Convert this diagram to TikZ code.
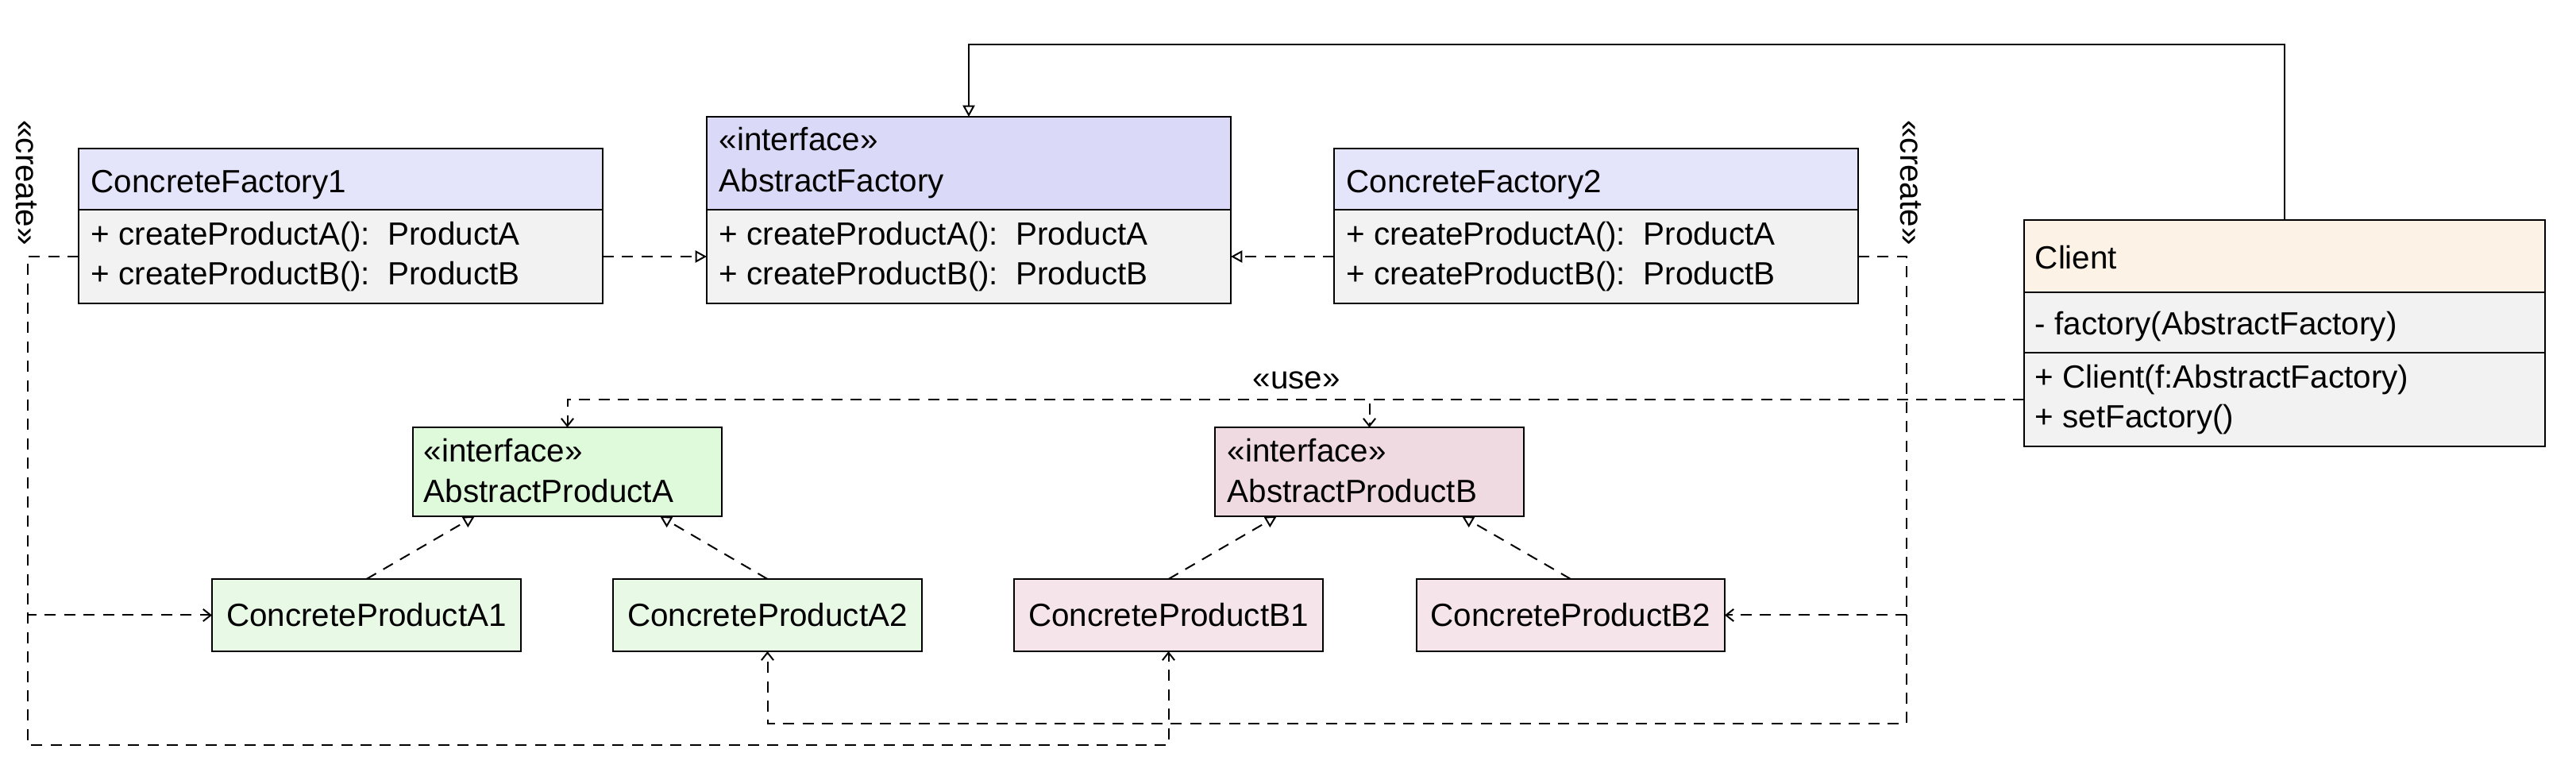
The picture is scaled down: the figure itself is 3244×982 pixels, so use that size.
\documentclass[tikz,border=0pt]{standalone}
\usepackage{fontspec}
\setmainfont{Liberation Sans}
\usetikzlibrary{arrows.meta,fit,calc}
\definecolor{afhead}{RGB}{218,218,248}
\definecolor{cfhead}{RGB}{228,228,250}
\definecolor{comp}{RGB}{242,242,242}
\definecolor{clhead}{RGB}{252,242,230}
\definecolor{apacol}{RGB}{222,250,218}
\definecolor{cpacol}{RGB}{232,250,230}
\definecolor{apbcol}{RGB}{240,218,226}
\definecolor{cpbcol}{RGB}{245,228,234}
\begin{document}
\begin{tikzpicture}[x=0.25pt,y=-0.25pt,
  frame/.style={draw=black, line width=0.6pt, inner sep=0pt, outer sep=0pt},
  txt/.style={inner sep=0pt, anchor=base west, font=\fontsize{10.1pt}{12pt}\selectfont},
  ctxt/.style={inner sep=0pt, anchor=center, font=\fontsize{10.1pt}{12pt}\selectfont},
  realize/.style={line width=0.5pt, dash pattern=on 3.5pt off 2.6pt, -{Triangle[open,length=3.6pt,width=3.8pt]}},
  dep/.style={line width=0.5pt, dash pattern=on 3.5pt off 2.6pt, -{Straight Barb[length=2.4pt,width=3.8pt]}},
  assoc/.style={line width=0.5pt, -{Triangle[open,length=3.6pt,width=3.8pt]}}
]
\useasboundingbox (0,0) rectangle (3244,982);

% ConcreteFactory1
\node[frame, fill=cfhead, fit={(99,187) (759,264)}] (cf1h) {};
\node[frame, fill=comp, fit={(99,264) (759,382)}] (cf1m) {};
\node[txt] (cf1t) at (114,243) {ConcreteFactory1};
\node[txt] (cf1a) at (114,309) {+ createProductA():\hspace{5.6pt}ProductA};
\node[txt] (cf1b) at (114,359) {+ createProductB():\hspace{5.6pt}ProductB};

% AbstractFactory
\node[frame, fill=afhead, fit={(890,147) (1550,264)}] (afh) {};
\node[frame, fill=comp, fit={(890,264) (1550,382)}] (afm) {};
\node[txt] (afs) at (905,190) {«interface»};
\node[txt] (aft) at (905,242) {AbstractFactory};
\node[txt] (afa) at (905,309) {+ createProductA():\hspace{5.6pt}ProductA};
\node[txt] (afb) at (905,359) {+ createProductB():\hspace{5.6pt}ProductB};

% ConcreteFactory2
\node[frame, fill=cfhead, fit={(1680,187) (2340,264)}] (cf2h) {};
\node[frame, fill=comp, fit={(1680,264) (2340,382)}] (cf2m) {};
\node[txt] (cf2t) at (1695,243) {ConcreteFactory2};
\node[txt] (cf2a) at (1695,309) {+ createProductA():\hspace{5.6pt}ProductA};
\node[txt] (cf2b) at (1695,359) {+ createProductB():\hspace{5.6pt}ProductB};

% Client
\node[frame, fill=clhead, fit={(2549,277) (3205,368)}] (clh) {};
\node[frame, fill=comp, fit={(2549,368) (3205,444)}] (cla) {};
\node[frame, fill=comp, fit={(2549,444) (3205,562)}] (clm) {};
\node[txt] (clt) at (2562,339) {Client};
\node[txt] (clat) at (2562,422) {- factory(AbstractFactory)};
\node[txt] (clma) at (2562,489) {+ Client(f:AbstractFactory)};
\node[txt] (clmb) at (2562,539) {+ setFactory()};

% Abstract products
\node[frame, fill=apacol, fit={(520,538) (909,650)}] (apa) {};
\node[txt] (apas) at (533,582) {«interface»};
\node[txt] (apat) at (533,633) {AbstractProductA};
\node[frame, fill=apbcol, fit={(1530,538) (1919,650)}] (apb) {};
\node[txt] (apbs) at (1545,582) {«interface»};
\node[txt] (apbt) at (1545,633) {AbstractProductB};

% Concrete products
\node[frame, fill=cpacol, fit={(267,729) (656,820)}] (cpa1) {};
\node[ctxt] at (cpa1.center) {ConcreteProductA1};
\node[frame, fill=cpacol, fit={(772,729) (1161,820)}] (cpa2) {};
\node[ctxt] at (cpa2.center) {ConcreteProductA2};
\node[frame, fill=cpbcol, fit={(1277,729) (1666,820)}] (cpb1) {};
\node[ctxt] at (cpb1.center) {ConcreteProductB1};
\node[frame, fill=cpbcol, fit={(1784,729) (2172,820)}] (cpb2) {};
\node[ctxt] at (cpb2.center) {ConcreteProductB2};

% helper coordinates
\coordinate (topy) at (0,56);
\coordinate (leftx) at (35,0);
\coordinate (rightx) at (2401,0);
\coordinate (boty1) at (0,938);
\coordinate (boty2) at (0,911);

% Client -> AbstractFactory
\draw[assoc] (clh.north) -- (clh.north |- topy) -- (afh.north |- topy) -- (afh.north);

% factories realize AbstractFactory
\draw[realize] (cf1m.east) -- (afm.west);
\draw[realize] (cf2m.west) -- (afm.east);

% create (left)
\draw[dep] (cf1m.west) -- (cf1m.west -| leftx) |- (cpa1.west);
\draw[dep] (cf1m.west) -- (cf1m.west -| leftx) -- (leftx |- boty1) -| (cpb1.south);
\node[ctxt, rotate=-90] (crl) at (33,230) {«create»};

% create (right)
\draw[dep] (cf2m.east) -- (cf2m.east -| rightx) |- (cpb2.east);
\draw[dep] (cf2m.east) -- (cf2m.east -| rightx) -- (rightx |- boty2) -| (cpa2.south);
\node[ctxt, rotate=-90] (crr) at (2406,230) {«create»};

% use
\draw[dep] (clm.west) -| (apa.north);
\draw[dep] (clm.west) -| (apb.north);
\node[txt] (use) at (1577,490) {«use»};

% products realize abstract products
\draw[realize] (cpa1.north) -- ($(apa.south west)!0.2!(apa.south east)$);
\draw[realize] (cpa2.north) -- ($(apa.south west)!0.8!(apa.south east)$);
\draw[realize] (cpb1.north) -- ($(apb.south west)!0.2!(apb.south east)$);
\draw[realize] (cpb2.north) -- ($(apb.south west)!0.8!(apb.south east)$);
\end{tikzpicture}
\end{document}
